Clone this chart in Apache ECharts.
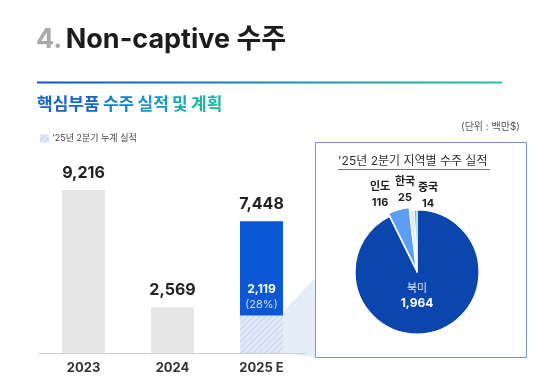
<!DOCTYPE html>
<html><head><meta charset="utf-8">
<script src="https://cdn.jsdelivr.net/npm/echarts@6/dist/echarts.min.js"></script>
<style>html,body{margin:0;padding:0;background:#fff}#c{width:541px;height:384px}</style>
</head><body><div id="c"></div>
<script>
const categories = ['2023', '2024', '2025 E'];
const annualOrders = [9216, 2569, 7448];
const q2Cumulative = 2119;
const q2SharePct = 28;
const regionNames = ['북미', '인도', '한국', '중국'];
const regionOrders = [1964, 116, 25, 14];

const FONT = "Inter, 'Noto Sans CJK KR', sans-serif";
const fmt = v => v.toLocaleString('en-US');

const pc = document.createElement('canvas'); pc.width = 6; pc.height = 6;
const g = pc.getContext('2d');
g.fillStyle = '#dfe9f7'; g.fillRect(0, 0, 6, 6);
g.strokeStyle = '#c6d7ef'; g.lineWidth = 1.1;
g.beginPath(); g.moveTo(0, 6); g.lineTo(6, 0); g.moveTo(-3, 3); g.lineTo(3, -3); g.moveTo(3, 9); g.lineTo(9, 3); g.stroke();
const hatch = { image: pc, repeat: 'repeat' };

const n = categories.length;
const grayData = annualOrders.map((v, i) => i < n - 1 ? v : '-');
const hatchData = annualOrders.map((v, i) => i === n - 1 ? q2Cumulative : '-');
const restData = annualOrders.map((v, i) => i === n - 1 ? v - q2Cumulative : '-');
const zeroData = annualOrders.map(() => 0);

const pieColors = ['#0a46ad', '#5b9ef3', '#d9e7f8', '#3ab59a'];
const pieLabelPos = [[417, 296], [380, 195], [405, 190], [428, 196]];
const PIE_CENTER = [417, 272], PIE_R = 62;

const chart = echarts.init(document.getElementById('c'), null, { renderer: 'canvas' });
chart.setOption({
  animation: false,
  textStyle: { fontFamily: FONT },
  legend: {
    data: ["'25년 2분기 누계 실적"], left: 35, top: 129, itemWidth: 9, itemHeight: 8, itemGap: 4,
    icon: 'rect',
    textStyle: { fontSize: 9, color: '#444', fontFamily: FONT, padding: [0, 0, 0, -2] }
  },
  grid: { left: 39, width: 267, top: 176, bottom: 31 },
  xAxis: {
    type: 'category', data: categories,
    axisLine: { lineStyle: { color: '#cfcfcf', width: 1 } },
    axisTick: { show: false },
    axisLabel: { fontSize: 13, fontWeight: 'bold', color: '#333', margin: 9, fontFamily: FONT }
  },
  yAxis: { type: 'value', min: 0, max: 10000, show: false },
  graphic: [
    { type: 'text', left: 36, top: 26, style: { text: '{a|4.} {b|Non-captive 수주}', rich: {
      a: { fontSize: 27, fontWeight: 'bold', fill: '#a9a9a9', fontFamily: FONT },
      b: { fontSize: 27, fontWeight: 'bold', fill: '#1c1c1c', fontFamily: FONT } } } },
    { type: 'rect', shape: { x: 37, y: 81.5, width: 465, height: 2 }, style: { fill: { type: 'linear', x: 0, y: 0, x2: 1, y2: 0, colorStops: [{ offset: 0, color: '#1452c8' }, { offset: 1, color: '#22c4a6' }] } } },
    { type: 'text', left: 37, top: 96, style: { text: '{a|핵심부품} {b|수주} {c|실적} {d|및} {e|계획}', rich: {
      a: { fontSize: 17, fontWeight: 'bold', fill: '#1a62d0', fontFamily: FONT },
      b: { fontSize: 17, fontWeight: 'bold', fill: '#1582c6', fontFamily: FONT },
      c: { fontSize: 17, fontWeight: 'bold', fill: '#129abc', fontFamily: FONT },
      d: { fontSize: 17, fontWeight: 'bold', fill: '#14aab0', fontFamily: FONT },
      e: { fontSize: 17, fontWeight: 'bold', fill: '#1bb6a2', fontFamily: FONT } } } },
    { type: 'text', right: 21, top: 122, style: { text: '(단위 : 백만$)', fontSize: 10, fill: '#555', fontFamily: FONT } },
    { type: 'polygon', z: -1, shape: { points: [[283, 312], [315, 278], [315, 357], [283, 353]] }, style: { fill: '#e4edf8' } },
    { type: 'rect', z: 0, shape: { x: 315.5, y: 142.5, width: 211, height: 215 }, style: { fill: 'rgba(0,0,0,0)', stroke: '#7b95c8', lineWidth: 1 } },
    { type: 'text', left: 338, top: 155, style: { text: "'25년 2분기 지역별 수주 실적", fontSize: 12, fill: '#333', fontFamily: FONT } },
    { type: 'rect', shape: { x: 338, y: 169, width: 152, height: 0.8 }, style: { fill: '#444' } }
  ],
  series: [
    { type: 'bar', name: '실적', stack: 's', data: grayData, barWidth: 43, itemStyle: { color: '#e6e6e6' }, silent: true },
    { type: 'bar', name: "'25년 2분기 누계 실적", stack: 's', data: hatchData, barWidth: 43, itemStyle: { color: hatch } },
    { type: 'bar', name: '잔여', stack: 's', data: restData, barWidth: 43, itemStyle: { color: '#0b57d5' },
      label: { show: true, position: 'insideBottom', distance: 3,
        formatter: () => '{a|' + fmt(q2Cumulative) + '}\n{b|(' + q2SharePct + '%)}',
        rich: { a: { fontSize: 12, fontWeight: 'bold', color: '#fff', lineHeight: 17, fontFamily: FONT },
                b: { fontSize: 11, color: '#cfe0fb', lineHeight: 15, fontFamily: FONT } } } },
    { type: 'bar', name: '합계', stack: 's', data: zeroData, barWidth: 43, itemStyle: { color: 'rgba(0,0,0,0)' },
      label: { show: true, position: 'top', distance: 9, formatter: p => fmt(annualOrders[p.dataIndex]),
        fontSize: 16, fontWeight: 'bold', color: '#222', fontFamily: FONT } },
    { type: 'pie', center: PIE_CENTER, radius: PIE_R, startAngle: 90, clockwise: true,
      selectedMode: 'single', selectedOffset: 3,
      itemStyle: { borderColor: '#fff', borderWidth: 1.2 },
      label: { show: false }, labelLine: { show: false },
      data: regionNames.map((nm, i) => ({ name: nm, value: regionOrders[i], selected: i === 1,
        itemStyle: { color: pieColors[i] } }))
    },
    { type: 'pie', name: 'labels', center: PIE_CENTER, radius: PIE_R, startAngle: 90, clockwise: true,
      silent: true, z: 3,
      itemStyle: { color: 'rgba(0,0,0,0)', borderWidth: 0 },
      labelLine: { show: false },
      data: regionNames.map((nm, i) => ({ name: nm, value: regionOrders[i],
        label: i === 0 ? {
          show: true, position: 'inside', formatter: '{a|{b}}\n{c|' + fmt(regionOrders[i]) + '}',
          rich: { a: { fontSize: 11, color: '#dbe6fb', lineHeight: 15, fontFamily: FONT },
                  c: { fontSize: 12, fontWeight: 'bold', color: '#fff', lineHeight: 15, fontFamily: FONT } }
        } : {
          show: true, position: 'outside', formatter: '{a|{b}}\n{c|' + fmt(regionOrders[i]) + '}',
          rich: { a: { fontSize: 11, fontWeight: 'bold', color: '#222', lineHeight: 16, fontFamily: FONT },
                  c: { fontSize: 11, fontWeight: 'bold', color: '#222', lineHeight: 16, fontFamily: FONT } }
        } })),
      labelLayout: p => ({ x: pieLabelPos[p.dataIndex][0], y: pieLabelPos[p.dataIndex][1], align: 'center', verticalAlign: 'middle' })
    }
  ]
});
</script></body></html>
